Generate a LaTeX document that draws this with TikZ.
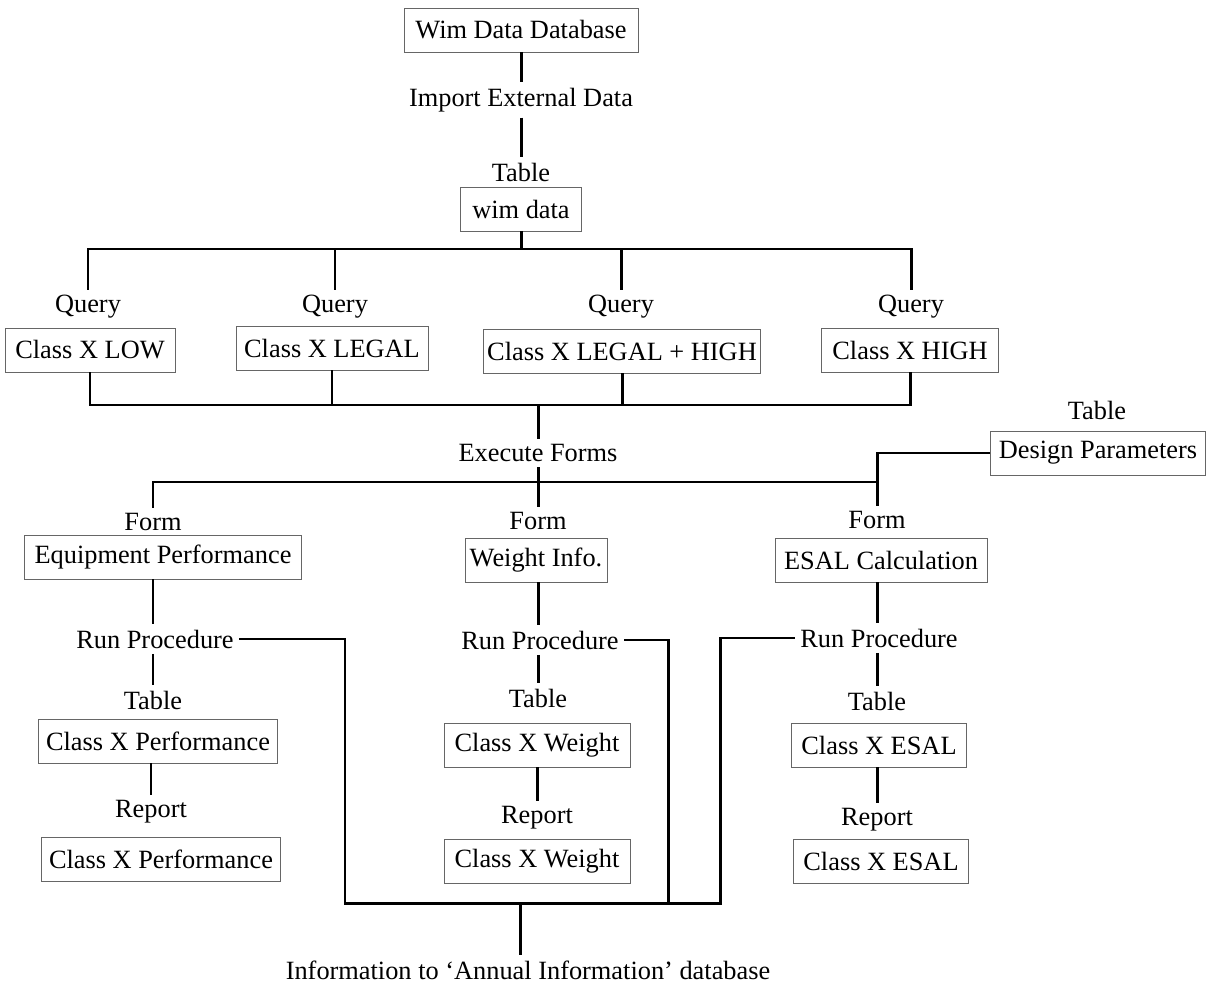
\documentclass[tikz,border=0pt]{standalone}
\usepackage{fontspec}
\setmainfont{Liberation Serif}
\usepackage{tikz}
\usetikzlibrary{positioning}

\begin{document}
\begin{tikzpicture}[x=0.02cm, y=-0.02cm,
		box/.style={draw=black!60, line width=0.5pt, minimum height=0.88cm, inner sep=2pt, font=\fontsize{15}{17}\selectfont},
		lbl/.style={inner sep=3pt, font=\fontsize{15}{17}\selectfont},
		conn/.style={black, line width=1.7pt}]
			\useasboundingbox (0,0) rectangle (1209,986);
			\node[box, minimum width=4.68cm] (wimdb) at (521,30) {Wim Data Database};
			\node[lbl] (import) at (521,100) {Import External Data};
			\node[lbl] (tabwim) at (521,172) {Table};
			\node[box, minimum width=2.42cm] (wimdata) at (521,209) {wim data};
			\node[lbl] (qry1) at (88,307) {Query};
			\node[lbl] (qry2) at (335,307) {Query};
			\node[lbl] (qry3) at (621,307) {Query};
			\node[lbl] (qry4) at (911,307) {Query};
			\node[box, minimum width=3.4cm] (low) at (90,350) {Class X LOW};
			\node[box, minimum width=3.84cm] (legal) at (332,348) {Class X LEGAL};
			\node[box, minimum width=5.32cm] (legalhigh) at (622,351) {Class X LEGAL + HIGH};
			\node[box, minimum width=3.54cm] (high) at (910,350) {Class X HIGH};
			\node[lbl] (exec) at (538,453) {Execute Forms};
			\node[lbl] (tabdes) at (1097,410) {Table};
			\node[box, minimum width=4.3cm] (design) at (1098,453) {Design Parameters};
			\node[lbl] (form1) at (153,522) {Form};
			\node[lbl] (form2) at (538,521) {Form};
			\node[lbl] (form3) at (877,520) {Form};
			\node[box, minimum width=5.54cm] (equip) at (163,557) {Equipment Performance};
			\node[box, minimum width=2.84cm] (weight) at (536,560) {Weight Info.};
			\node[box, minimum width=4.24cm] (esal) at (881,560) {ESAL Calculation};
			\node[lbl] (run1) at (155,639) {Run Procedure};
			\node[lbl] (run2) at (540,640) {Run Procedure};
			\node[lbl] (run3) at (879,638) {Run Procedure};
			\node[lbl] (tab1) at (153,700) {Table};
			\node[lbl] (tab2) at (538,698) {Table};
			\node[lbl] (tab3) at (877,701) {Table};
			\node[box, minimum width=4.78cm] (perftab) at (158,741) {Class X Performance};
			\node[box, minimum width=3.72cm] (wgttab) at (537,745) {Class X Weight};
			\node[box, minimum width=3.5cm] (esaltab) at (879,745) {Class X ESAL};
			\node[lbl] (rep1) at (151,812) {Report};
			\node[lbl] (rep2) at (537,818) {Report};
			\node[lbl] (rep3) at (877,820) {Report};
			\node[box, minimum width=4.78cm] (perfrep) at (161,859) {Class X Performance};
			\node[box, minimum width=3.72cm] (wgtrep) at (537,861) {Class X Weight};
			\node[box, minimum width=3.5cm] (esalrep) at (881,861) {Class X ESAL};
			\node[lbl] (info) at (528,970) {Information to ‘Annual Information’ database};
			\coordinate (top) at (521,249);
			\coordinate (mid) at (538,405);
			\coordinate (frm) at (538,482);
			\coordinate (bl) at (345,903);
			\coordinate (bm) at (668,903);
			\coordinate (br) at (720,903);
			\coordinate (bot) at (520,903);
			\draw[conn] (wimdb.south) -- (import.north);
			\draw[conn] (import.south) -- (tabwim.north);
			\draw[conn] (wimdata.south) -- (top);
			\draw[conn] (qry1.north) |- (top) -| (qry4.north);
			\draw[conn] (qry2.north) -- (qry2.north |- top);
			\draw[conn] (qry3.north) -- (qry3.north |- top);
			\draw[conn] (low.south) |- (mid) -| (high.south);
			\draw[conn] (legal.south) -- (legal.south |- mid);
			\draw[conn] (legalhigh.south) -- (legalhigh.south |- mid);
			\draw[conn] (mid) -- (exec.north);
			\draw[conn] (exec.south) -- (form2.north);
			\draw[conn] (form1.north) |- (frm) -- (frm -| form3.north);
			\draw[conn] (design.west) -| (form3.north);
			\draw[conn] (equip.south -| tab1) -- (tab1 |- run1.north);
			\draw[conn] (weight.south -| tab2) -- (tab2 |- run2.north);
			\draw[conn] (esal.south -| tab3) -- (tab3 |- run3.north);
			\draw[conn] (tab1 |- run1.south) -- (tab1.north);
			\draw[conn] (tab2 |- run2.south) -- (tab2.north);
			\draw[conn] (tab3 |- run3.south) -- (tab3.north);
			\draw[conn] (perftab.south -| rep1) -- (rep1.north);
			\draw[conn] (wgttab.south -| rep2) -- (rep2.north);
			\draw[conn] (esaltab.south -| rep3) -- (rep3.north);
			\draw[conn] (run1.east) -| (bl) -- (br) |- (run3.west);
			\draw[conn] (run2.east) -| (bm);
			\draw[conn] (bot) -- (bot |- info.north);
\end{tikzpicture}
\end{document}
